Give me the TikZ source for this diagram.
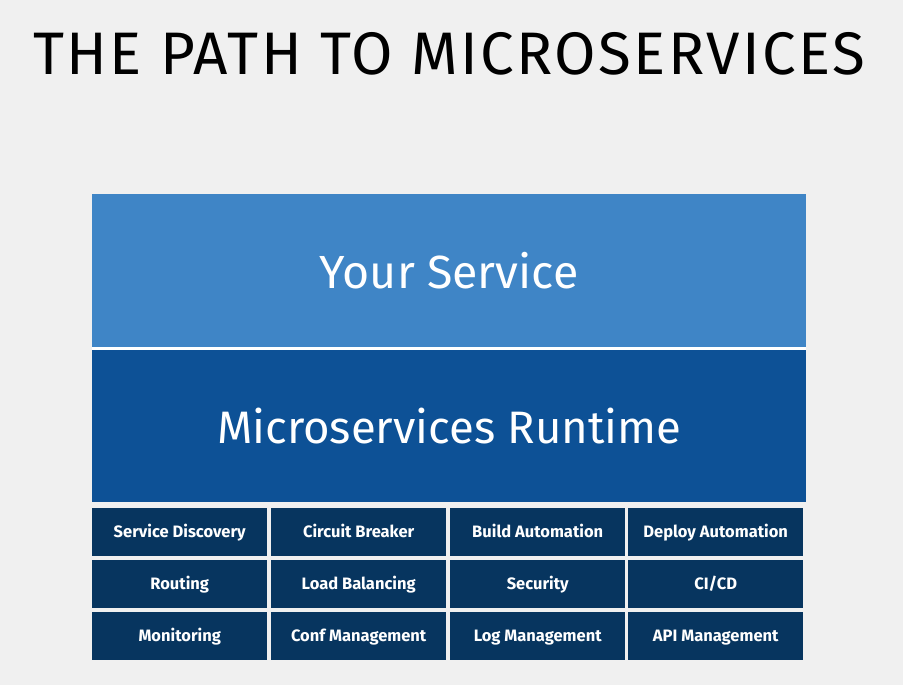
\documentclass[tikz,border=0pt]{standalone}
\usepackage{fontspec}
\setmainfont{Fira Sans}
\definecolor{bg}{HTML}{F0F0F0}
\definecolor{topblue}{HTML}{3F85C6}
\definecolor{midblue}{HTML}{0D5196}
\definecolor{cellblue}{HTML}{07355F}
\begin{document}
\begin{tikzpicture}[x=1pt,y=-1pt,
  cellbox/.style={fill=cellblue,text=white,minimum width=175pt,minimum height=48pt,inner sep=0pt,anchor=north west,text height=13pt,text depth=2pt,font=\fontsize{16.5}{18}\selectfont\bfseries},
  bigbox/.style={minimum width=714pt,minimum height=153pt,inner sep=0pt,anchor=north west,text=white}]
\fill[bg] (0,0) rectangle (903,685);
\useasboundingbox (0,0) rectangle (903,685);
\node[font=\fontsize{60}{62}\selectfont, text=black, inner sep=0pt] (title) at (449,54) {\addfontfeature{LetterSpace=4}THE PATH TO MICROSERVICES};
\fill[white] (92,346) rectangle (806,351);
\node[bigbox,fill=topblue,minimum height=153pt,font=\fontsize{46.5}{50}\selectfont] (svc) at (92,194) {Your Service};
\node[bigbox,fill=midblue,minimum height=152pt,font=\fontsize{45.5}{50}\selectfont] (rt) at (92,350) {Microservices Runtime};
\node[cellbox] (c11) at (92,508) {Service Discovery};
\node[cellbox] (c12) at (271,508) {Circuit Breaker};
\node[cellbox] (c13) at (450,508) {Build Automation};
\node[cellbox] (c14) at (628,508) {Deploy Automation};
\node[cellbox] (c21) at (92,560) {Routing};
\node[cellbox] (c22) at (271,560) {Load Balancing};
\node[cellbox] (c23) at (450,560) {Security};
\node[cellbox] (c24) at (628,560) {CI/CD};
\node[cellbox] (c31) at (92,612) {Monitoring};
\node[cellbox] (c32) at (271,612) {Conf Management};
\node[cellbox] (c33) at (450,612) {Log Management};
\node[cellbox] (c34) at (628,612) {API Management};
\end{tikzpicture}
\end{document}
